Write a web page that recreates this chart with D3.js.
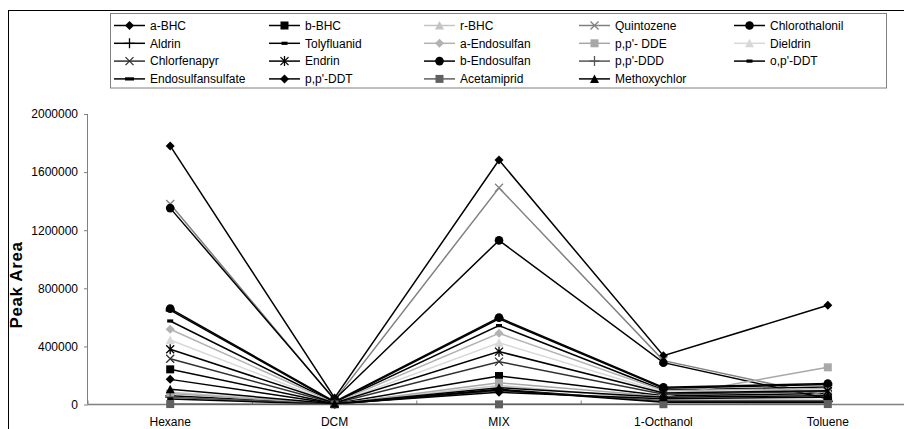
<!DOCTYPE html>
<html>
<head>
<meta charset="utf-8">
<script src="https://cdn.jsdelivr.net/npm/d3@7"></script>
<style>
  html, body { margin: 0; padding: 0; background: #fff; }
  svg { display: block; }
  text { font-family: "Liberation Sans", Arial, sans-serif; fill: #000; }
</style>
</head>
<body>
<svg id="chart" width="904" height="429"></svg>
<script>
// Extraction solvents on the x axis
const solvents = ["Hexane", "DCM", "MIX", "1-Octhanol", "Toluene"];

// Y axis ticks
const yTicks = [0, 400000, 800000, 1200000, 1600000, 2000000];

// Peak areas per pesticide, in solvent order
const aBHC            = [1780000, 45000, 1683000, 336000, 683000];
const bBHC            = [242000, 6000, 196000, 60000, 75000];
const rBHC            = [85000, 4000, 130000, 35000, 30000];
const quintozene      = [1380000, 30000, 1492000, 302000, 58000];
const chlorothalonil  = [1352000, 35000, 1130000, 288000, 40000];
const aldrin          = [60000, 3000, 105000, 20000, 20000];
const tolyfluanid     = [575000, 12000, 543000, 100000, 120000];
const aEndosulfan     = [518000, 10000, 490000, 95000, 110000];
const ppDDE           = [75000, 4000, 150000, 55000, 256000];
const dieldrin        = [444000, 8000, 425000, 85000, 100000];
const chlorfenapyr    = [315000, 8000, 295000, 70000, 90000];
const endrin          = [380000, 10000, 364000, 80000, 95000];
const bEndosulfan     = [660000, 20000, 598000, 118000, 145000];
const ppDDD           = [50000, 3000, 95000, 25000, 25000];
const opDDT           = [38000, 2000, 100000, 15000, 15000];
const endosulfansulf  = [650000, 15000, 590000, 112000, 138000];
const ppDDT           = [173000, 5000, 84000, 40000, 50000];
const acetamiprid     = [3000, 1000, 1000, 2000, 3000];
const methoxychlor    = [105000, 5000, 116000, 50000, 60000];

// Series names (legend order)
const names = ["a-BHC", "b-BHC", "r-BHC", "Quintozene", "Chlorothalonil",
  "Aldrin", "Tolyfluanid", "a-Endosulfan", "p,p'- DDE", "Dieldrin",
  "Chlorfenapyr", "Endrin", "b-Endosulfan", "p,p'-DDD", "o,p'-DDT",
  "Endosulfansulfate", "p,p'-DDT", "Acetamiprid", "Methoxychlor"];
const values = [aBHC, bBHC, rBHC, quintozene, chlorothalonil,
  aldrin, tolyfluanid, aEndosulfan, ppDDE, dieldrin,
  chlorfenapyr, endrin, bEndosulfan, ppDDD, opDDT,
  endosulfansulf, ppDDT, acetamiprid, methoxychlor];
const colors = ["#000000", "#000000", "#c4c4c4", "#808080", "#000000",
  "#000000", "#000000", "#b2b2b2", "#a8a8a8", "#d8d8d8",
  "#303030", "#000000", "#000000", "#555555", "#000000",
  "#000000", "#000000", "#606060", "#000000"];
const markers = ["diamond", "square", "triangle", "x", "circle",
  "plus", "dash", "diamond", "square", "triangle",
  "x", "star", "circle", "plus", "dash",
  "longdash", "diamond", "square", "triangle"];

const svg = d3.select("#chart");

// Outer chart frame
svg.append("rect")
  .attr("x", 8.5).attr("y", 10.5)
  .attr("width", 940).attr("height", 440)
  .attr("fill", "none").attr("stroke", "#000").attr("stroke-width", 1);

const x = d3.scalePoint().domain(solvents).range([88, 910]).padding(0.5);
const y = d3.scaleLinear().domain([0, 2000000]).range([404.5, 114]);

// Marker drawing
function drawMarker(g, type, color) {
  const s = 4;
  switch (type) {
    case "diamond":
      g.append("path").attr("d", `M0,${-s-0.5}L${s+0.5},0L0,${s+0.5}L${-s-0.5},0Z`).attr("fill", color);
      break;
    case "square":
      g.append("rect").attr("x", -s).attr("y", -s).attr("width", 2*s).attr("height", 2*s).attr("fill", color);
      break;
    case "triangle":
      g.append("path").attr("d", `M0,${-s-0.5}L${s+0.5},${s}L${-s-0.5},${s}Z`).attr("fill", color);
      break;
    case "circle":
      g.append("circle").attr("r", s + 0.3).attr("fill", color);
      break;
    case "x":
      g.append("path").attr("d", `M${-s},${-s}L${s},${s}M${-s},${s}L${s},${-s}`)
        .attr("stroke", color).attr("stroke-width", 1.3).attr("fill", "none");
      break;
    case "star":
      g.append("path").attr("d", `M${-s},${-s}L${s},${s}M${-s},${s}L${s},${-s}M0,${-s-1}L0,${s+1}`)
        .attr("stroke", color).attr("stroke-width", 1.3).attr("fill", "none");
      break;
    case "plus":
      g.append("path").attr("d", `M0,${-s-1}L0,${s+1}M${-s-1},0L${s+1},0`)
        .attr("stroke", color).attr("stroke-width", 1.3).attr("fill", "none");
      break;
    case "dash":
      g.append("rect").attr("x", -3).attr("y", -1.6).attr("width", 6).attr("height", 3.2).attr("fill", color);
      break;
    case "longdash":
      g.append("rect").attr("x", -4.5).attr("y", -1.6).attr("width", 9).attr("height", 3.2).attr("fill", color);
      break;
  }
}

// Axes
const yAxisG = svg.append("g").attr("transform", "translate(88,0)")
  .call(d3.axisLeft(y).tickValues(yTicks).tickSize(4).tickPadding(6).tickFormat(d3.format("d")));
yAxisG.select(".domain").attr("stroke", "#808080").attr("d", `M-0.5,${y(0)}V${y(2000000)}`);
yAxisG.selectAll(".tick line").attr("stroke", "#808080");
yAxisG.selectAll(".tick text").attr("font-size", 12).attr("font-family", "Liberation Sans, Arial, sans-serif").attr("fill", "#000");

const bounds = d3.range(solvents.length + 1).map(i => 88 + i * x.step());
svg.append("g").selectAll("line").data(bounds).join("line")
  .attr("x1", d => d).attr("x2", d => d)
  .attr("y1", y(0)).attr("y2", y(0) - 4)
  .attr("stroke", "#808080");
svg.append("line").attr("x1", 88).attr("x2", 910)
  .attr("y1", y(0)).attr("y2", y(0))
  .attr("stroke", "#808080").attr("stroke-width", 1.5);

svg.append("g").selectAll("text").data(solvents).join("text")
  .attr("x", d => x(d)).attr("y", 426)
  .attr("text-anchor", "middle").attr("font-size", 12)
  .text(d => d);

svg.append("text")
  .attr("transform", "translate(22,285) rotate(-90)")
  .attr("text-anchor", "middle")
  .attr("font-size", 17).attr("font-weight", "bold")
  .attr("letter-spacing", 0.6)
  .text("Peak Area");

// Series lines and markers
const line = d3.line().x((d, i) => x(solvents[i])).y(d => y(d));
const series = svg.append("g");
names.forEach((n, k) => {
  const g = series.append("g");
  g.append("path").attr("d", line(values[k]))
    .attr("fill", "none").attr("stroke", colors[k]).attr("stroke-width", 1.5);
  values[k].forEach((v, i) => {
    const m = g.append("g").attr("transform", `translate(${x(solvents[i])},${y(v)})`);
    drawMarker(m, markers[k], colors[k]);
  });
});

// Legend
const lg = svg.append("g");
lg.append("rect").attr("x", 110.5).attr("y", 13.5).attr("width", 776).attr("height", 74.5)
  .attr("fill", "#fff").attr("stroke", "#808080");
names.forEach((n, k) => {
  const col = k % 5, row = Math.floor(k / 5);
  const lx = 114 + col * 155, ly = 25.5 + row * 17.8;
  const it = lg.append("g").attr("transform", `translate(${lx},${ly})`);
  it.append("line").attr("x1", 0).attr("x2", 31).attr("y1", 0).attr("y2", 0)
    .attr("stroke", colors[k]).attr("stroke-width", 1.5);
  drawMarker(it.append("g").attr("transform", "translate(15.5,0)"), markers[k], colors[k]);
  it.append("text").attr("x", 36).attr("y", 0).attr("dy", "0.35em")
    .attr("font-size", 12).text(n);
});
</script>
</body>
</html>
